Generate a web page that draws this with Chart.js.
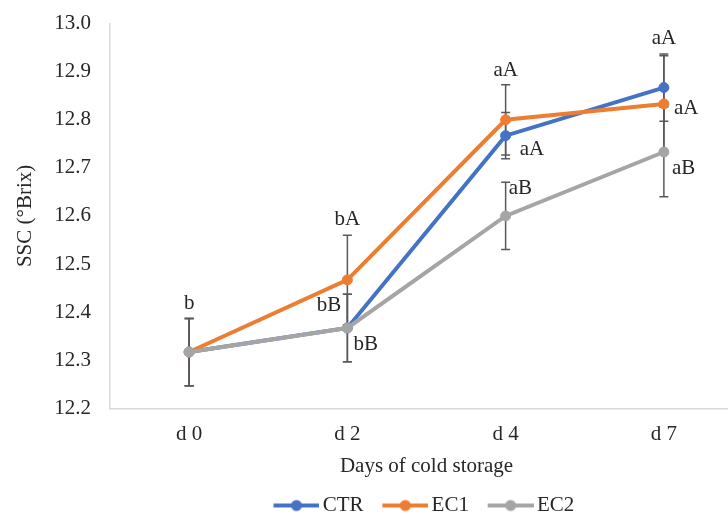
<!DOCTYPE html>
<html>
<head>
<meta charset="utf-8">
<script src="https://cdn.jsdelivr.net/npm/chart.js@4.4.0/dist/chart.umd.min.js"></script>
<style>
  html, body { margin: 0; padding: 0; background: #fff; overflow: hidden; }
  #wrap { width: 760px; height: 534px; margin-top: -8px; }
</style>
</head>
<body>
<div id="wrap"><canvas id="myChart"></canvas></div>
<script>
// data
var days = ['d 0', 'd 2', 'd 4', 'd 7'];
var seriesNames = ['CTR', 'EC1', 'EC2'];
var ctrValues = [12.317, 12.367, 12.767, 12.867];
var ec1Values = [12.317, 12.467, 12.800, 12.833];
var ec2Values = [12.317, 12.367, 12.600, 12.733];
var ctrErrors = [0.07, 0.07, 0.048, 0.07];
var ec1Errors = [0.07, 0.093, 0.073, 0.10];
var ec2Errors = [0.07, 0.07, 0.07, 0.093];
var ctrLetters = ['', 'bB', 'aA', 'aA'];
var ec1Letters = ['b', 'bA', 'aA', 'aA'];
var ec2Letters = ['', 'bB', 'aB', 'aB'];
var yTicks = [12.2, 12.3, 12.4, 12.5, 12.6, 12.7, 12.8, 12.9, 13.0];

var colors = ['#4472C4', '#ED7D31', '#A5A5A5'];
var textColor = '#262626';
var serif = "'Liberation Serif', 'Times New Roman', serif";
var fontSize = 21;

// where each letter sits: [anchor, dx, dy, align]; anchor 'top' = top of the error bar
var letterPlacement = [
    [null, ['point', -6, -23, 'right'], ['point', 14, 14, 'left'], ['top', 0, -15, 'center']],
    [['top', 0, -15, 'center'], ['top', 0, -16, 'center'], ['top', 0, -14, 'center'], ['point', 10, 5, 'left']],
    [null, ['point', 6, 16, 'left'], ['top', 3, 6, 'left'], ['point', 8, 16, 'left']]
];

// legend marker: line with a dot, sitting at the right of a wider transparent image
function legendIcon(color) {
    var c = document.createElement('canvas');
    c.width = 62; c.height = 14;
    var g = c.getContext('2d');
    g.strokeStyle = color; g.lineWidth = 4;
    g.beginPath(); g.moveTo(16, 7); g.lineTo(62, 7); g.stroke();
    g.fillStyle = color;
    g.beginPath(); g.arc(39, 7, 5.5, 0, Math.PI * 2); g.fill();
    return c;
}
var legendIcons = colors.map(legendIcon);

var errorBars = {
    id: 'errorBars',
    beforeDatasetsDraw: function (chart) {
        var ctx = chart.ctx, y = chart.scales.y;
        ctx.save();
        ctx.strokeStyle = '#595959';
        ctx.lineWidth = 1.5;
        chart.data.datasets.forEach(function (ds, i) {
            chart.getDatasetMeta(i).data.forEach(function (pt, j) {
                var top = y.getPixelForValue(ds.data[j] + ds.errors[j]);
                var bot = y.getPixelForValue(ds.data[j] - ds.errors[j]);
                ctx.beginPath();
                ctx.moveTo(pt.x, top); ctx.lineTo(pt.x, bot);
                ctx.moveTo(pt.x - 4.5, top); ctx.lineTo(pt.x + 4.5, top);
                ctx.moveTo(pt.x - 4.5, bot); ctx.lineTo(pt.x + 4.5, bot);
                ctx.stroke();
            });
        });
        ctx.restore();
    }
};

var letters = {
    id: 'letters',
    afterDatasetsDraw: function (chart) {
        var ctx = chart.ctx, y = chart.scales.y;
        ctx.save();
        ctx.font = fontSize + 'px ' + serif;
        ctx.fillStyle = textColor;
        ctx.textBaseline = 'middle';
        chart.data.datasets.forEach(function (ds, i) {
            chart.getDatasetMeta(i).data.forEach(function (pt, j) {
                var p = letterPlacement[i][j];
                if (!p || !ds.letters[j]) return;
                var baseY = p[0] === 'top' ? y.getPixelForValue(ds.data[j] + ds.errors[j]) : pt.y;
                ctx.textAlign = p[3];
                ctx.fillText(ds.letters[j], pt.x + p[1], baseY + p[2]);
            });
        });
        ctx.restore();
    }
};

// nudge the legend a little left, as in the original
var legendShift = {
    id: 'legendShift',
    afterLayout: function (chart) {
        chart.legend.left -= 7;
        chart.legend.right -= 7;
    }
};

var valueSets = [ctrValues, ec1Values, ec2Values];
var errorSets = [ctrErrors, ec1Errors, ec2Errors];
var letterSets = [ctrLetters, ec1Letters, ec2Letters];

var ctx = document.getElementById('myChart').getContext('2d');
var myChart = new Chart(ctx, {
    type: 'line',
    data: {
        labels: days,
        datasets: seriesNames.map(function (name, i) {
            return {
                label: name,
                data: valueSets[i],
                errors: errorSets[i],
                letters: letterSets[i],
                borderColor: colors[i],
                backgroundColor: colors[i],
                borderWidth: 4,
                pointRadius: 5,
                pointBorderWidth: 1,
                tension: 0,
                order: 3 - i
            };
        })
    },
    options: {
        responsive: true,
        maintainAspectRatio: false,
        animation: false,
        layout: { padding: { top: 0, right: 17, bottom: 0, left: 0 } },
        plugins: {
            tooltip: { enabled: false },
            legend: {
                position: 'bottom',
                fullSize: false,
                labels: {
                    usePointStyle: true,
                    pointStyleWidth: 47.5,
                    padding: 10,
                    color: textColor,
                    font: { family: serif, size: fontSize },
                    sort: function (a, b) { return a.datasetIndex - b.datasetIndex; },
                    generateLabels: function (chart) {
                        var items = Chart.defaults.plugins.legend.labels.generateLabels(chart);
                        items.forEach(function (it) { it.pointStyle = legendIcons[it.datasetIndex]; });
                        return items;
                    }
                }
            }
        },
        scales: {
            x: {
                offset: true,
                grid: { display: false, drawTicks: false },
                border: { color: '#d9d9d9', width: 1.5 },
                ticks: { color: textColor, padding: 13.4, font: { family: serif, size: fontSize } },
                title: {
                    display: true,
                    text: 'Days of cold storage',
                    color: textColor,
                    font: { family: serif, size: fontSize },
                    padding: { top: -6.5, bottom: 6 }
                }
            },
            y: {
                min: 12.2,
                max: 13.0,
                grid: { display: false, drawTicks: false },
                border: { color: '#d9d9d9', width: 1.5 },
                afterBuildTicks: function (scale) {
                    scale.ticks = yTicks.map(function (v) { return { value: v }; });
                },
                afterFit: function (scale) { scale.width = 110; },
                ticks: {
                    color: textColor,
                    padding: 19,
                    font: { family: serif, size: fontSize },
                    callback: function (v) { return Number(v).toFixed(1); }
                },
                title: {
                    display: true,
                    text: 'SSC (°Brix)',
                    color: textColor,
                    font: { family: serif, size: fontSize },
                    padding: { top: 13, bottom: 0 }
                }
            }
        }
    },
    plugins: [errorBars, letters, legendShift]
});
</script>
</body>
</html>
